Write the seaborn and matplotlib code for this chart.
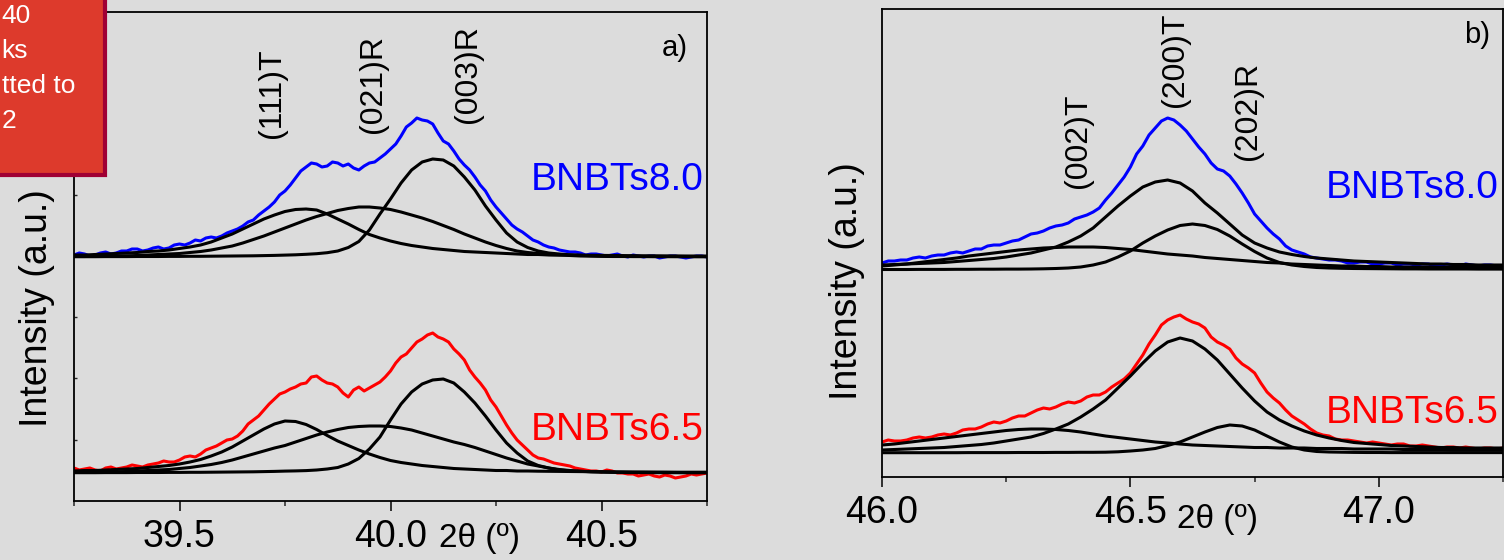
import numpy as np
import matplotlib
matplotlib.use("Agg")
import matplotlib.pyplot as plt
import seaborn as sns
from matplotlib.patches import Rectangle

# ---------------- data (intensity in arbitrary units) ----------------
# sampling grid of the fitted components
theta_a = [39.25, 39.275, 39.3, 39.325, 39.35, 39.375, 39.4, 39.425, 39.45, 39.475,
           39.5, 39.525, 39.55, 39.575, 39.6, 39.625, 39.65, 39.675, 39.7, 39.725,
           39.75, 39.775, 39.8, 39.825, 39.85, 39.875, 39.9, 39.925, 39.95, 39.975,
           40.0, 40.025, 40.05, 40.075, 40.1, 40.125, 40.15, 40.175, 40.2, 40.225,
           40.25, 40.275, 40.3, 40.325, 40.35, 40.375, 40.4, 40.425, 40.45, 40.475,
           40.5, 40.525, 40.55, 40.575, 40.6, 40.625, 40.65, 40.675, 40.7, 40.725, 40.75]
theta_b = [46.0, 46.025, 46.05, 46.075, 46.1, 46.125, 46.15, 46.175, 46.2, 46.225,
           46.25, 46.275, 46.3, 46.325, 46.35, 46.375, 46.4, 46.425, 46.45, 46.475,
           46.5, 46.525, 46.55, 46.575, 46.6, 46.625, 46.65, 46.675, 46.7, 46.725,
           46.75, 46.775, 46.8, 46.825, 46.85, 46.875, 46.9, 46.925, 46.95, 46.975,
           47.0, 47.025, 47.05, 47.075, 47.1, 47.125, 47.15, 47.175, 47.2, 47.225, 47.25]

# measured patterns, read every 0.0125 deg
a_bnbts80 = [2, 4, 3, 1, 2, 4, 5, 3, 4, 6, 6, 8, 8, 6, 7, 9, 10, 8, 9, 12,
             13, 12, 14, 17, 16, 19, 20, 19, 21, 24, 26, 28, 31, 35, 37, 42, 46, 50, 55, 62,
             66, 72, 79, 86, 90, 94, 93, 90, 91, 95, 94, 91, 93, 89, 87, 91, 94, 95, 99, 103,
             108, 113, 121, 130, 134, 139, 137, 136, 133, 124, 116, 113, 106, 98, 92, 87, 80, 72, 66, 57,
             50, 44, 38, 32, 28, 25, 21, 17, 15, 12, 10, 9, 7, 6, 5, 5, 4, 2, 3, 3,
             2, 1, 2, 3, 1, 0, 2, 1, 0, 1, 1, -1, 0, 1, 1, 0, -1, 0, 1, 1, 0]
a_bnbts65 = [5, 3, 4, 5, 3, 2, 5, 6, 4, 5, 6, 8, 7, 6, 8, 9, 10, 12, 11, 11,
             13, 16, 17, 16, 19, 23, 25, 27, 30, 33, 34, 37, 42, 49, 53, 57, 63, 69, 74, 79,
             81, 84, 86, 89, 90, 96, 97, 93, 90, 89, 86, 80, 76, 83, 86, 82, 85, 88, 91, 96,
             102, 110, 116, 119, 125, 131, 134, 138, 140, 136, 134, 131, 124, 119, 113, 103, 96, 90, 83, 73,
             66, 57, 48, 40, 33, 28, 23, 18, 15, 14, 12, 10, 9, 8, 7, 5, 4, 3, 2, 2,
             1, 3, 2, 0, 0, -1, -1, -3, -2, -1, -3, -4, -2, -3, -5, -4, -3, -1, -2, -1, 0]
b_bnbts80 = [7, 9, 9, 10, 10, 12, 13, 12, 14, 15, 15, 17, 18, 17, 19, 21, 21, 24, 25, 25,
             27, 29, 30, 33, 36, 37, 39, 42, 44, 45, 47, 51, 53, 55, 58, 62, 70, 77, 85, 93,
             103, 116, 124, 135, 142, 149, 152, 150, 145, 139, 131, 123, 116, 107, 101, 99, 94, 86, 77, 67,
             56, 49, 42, 36, 31, 24, 20, 18, 16, 13, 12, 11, 10, 10, 9, 7, 7, 8, 8, 6,
             6, 7, 7, 5, 6, 6, 5, 6, 6, 4, 5, 6, 5, 4, 6, 5, 4, 5, 5, 4, 4]
b_bnbts65 = [11, 13, 12, 12, 13, 15, 16, 15, 16, 18, 19, 18, 20, 23, 24, 24, 26, 29, 31, 30,
             32, 35, 37, 37, 40, 43, 45, 44, 46, 49, 51, 50, 52, 56, 58, 58, 61, 66, 70, 74,
             80, 89, 98, 109, 118, 128, 133, 136, 138, 134, 131, 129, 125, 116, 111, 108, 104, 95, 89, 85,
             80, 70, 61, 55, 50, 43, 37, 33, 29, 24, 20, 18, 17, 14, 13, 13, 12, 11, 10, 11,
             10, 9, 8, 9, 9, 7, 7, 8, 7, 6, 5, 6, 6, 5, 6, 5, 4, 5, 5, 4, 5]

# fitted peak components
a80_111T = [2, 2, 2.5, 3, 3.5, 4, 4.5, 5.5, 6, 7, 8.5, 10, 12, 15, 19, 23, 28, 33, 38, 42,
            45.5, 47.5, 48, 47, 43, 38, 33, 27.5, 22.5, 19, 16, 13.5, 11.5, 10, 8.5, 7.5, 6.5, 5.5, 5, 4.5,
            4, 3.5, 3, 2.5, 2.5, 2, 2, 2, 1.8, 1.7, 1.6, 1.5, 1.4, 1.3, 1.2, 1.2, 1.1, 1.1, 1, 1, 1]
a80_021R = [0.5, 0.5, 0.7, 0.8, 1, 1.2, 1.5, 2, 2.5, 3, 3.5, 4.5, 5.5, 7, 9, 11, 14, 17.5, 21, 25,
            29, 33, 37, 40.5, 43.5, 46.5, 48.5, 50, 50, 49, 47.5, 45, 42, 39, 35.5, 31.5, 27.5, 23, 19, 15,
            11.5, 8.5, 6, 4.5, 3.5, 2.5, 2, 1.5, 1, 0.8, 0.6, 0.5, 0.5, 0.4, 0.4, 0.3, 0.3, 0.3, 0.3, 0.3, 0.3]
a80_003R = [0.3, 0.3, 0.3, 0.4, 0.4, 0.4, 0.5, 0.5, 0.5, 0.6, 0.6, 0.7, 0.7, 0.8, 0.9, 1, 1.1, 1.2, 1.4, 1.6,
            1.9, 2.2, 2.7, 3.3, 4.3, 6, 9.5, 15.5, 27, 43, 58, 74, 87, 95, 98, 97, 91, 80, 67, 51,
            37, 24, 15, 9.5, 6, 4, 3, 2.2, 1.7, 1.4, 1.2, 1, 0.9, 0.8, 0.7, 0.6, 0.6, 0.5, 0.5, 0.4, 0.4]
a65_111T = [2, 2.5, 2.5, 3, 3.5, 4, 4.5, 5.5, 6.5, 7.5, 9, 11, 13.5, 17, 21, 26, 32, 38, 44, 49,
            52, 51.5, 48.5, 43.5, 37.5, 32, 27.5, 23, 19, 15.5, 12.5, 10.5, 9, 7.5, 6.5, 5.5, 4.5, 4, 3.5, 3,
            2.5, 2.5, 2, 2, 1.8, 1.7, 1.6, 1.5, 1.4, 1.3, 1.2, 1.1, 1.1, 1, 1, 0.9, 0.9, 0.8, 0.8, 0.8, 0.8]
a65_021R = [0.5, 0.6, 0.8, 1, 1.2, 1.5, 2, 2.5, 3, 3.5, 4.5, 5.5, 7, 8.5, 10.5, 13, 16, 19, 22, 25,
            27.5, 31, 34.5, 38, 41, 43.5, 45.5, 46.5, 47, 47, 46.5, 45, 43, 40, 37, 34, 31, 28.5, 25.5, 22,
            18.5, 15, 12, 9, 7, 5, 3.5, 2.5, 1.8, 1.3, 1, 0.7, 0.5, 0.4, 0.4, 0.3, 0.3, 0.3, 0.3, 0.3, 0.3]
a65_003R = [0.3, 0.3, 0.3, 0.4, 0.4, 0.4, 0.5, 0.5, 0.5, 0.6, 0.6, 0.7, 0.7, 0.8, 0.9, 1, 1.1, 1.2, 1.4, 1.6,
            1.9, 2.1, 2.4, 3, 4, 5.5, 9, 14.5, 24, 36, 53, 69, 81, 89, 93, 94, 90, 81, 70, 57,
            43, 30, 20, 12, 7.5, 5, 3, 2.2, 1.6, 1.3, 1.1, 0.9, 0.8, 0.7, 0.6, 0.6, 0.5, 0.5, 0.4, 0.4, 0.4]

b80_002T = [4, 5, 6, 7.5, 9, 10.5, 12, 14, 15.5, 17, 18.5, 20, 21, 22, 22.5, 23, 23, 23, 22.5, 21.5,
            20.5, 19, 17.5, 16, 15, 14, 12.5, 11.5, 10.5, 9.5, 8.5, 7.5, 7, 6, 5.5, 5, 4.5, 4, 4, 3.5,
            3.5, 3, 3, 3, 3, 2.5, 2.5, 2.5, 2.5, 2.5, 2.5]
b80_200T = [5, 5.5, 6, 6.5, 7, 7.5, 8.5, 9.5, 10.5, 11.5, 13, 15, 17, 20, 23, 28, 34, 42, 53, 64,
            74, 83, 88, 90, 87, 79, 67, 57, 46, 35, 27, 22, 18, 15.5, 13.5, 12, 11, 10, 9, 8.5,
            8, 7.5, 7, 6.5, 6, 6, 5.5, 5.5, 5, 5, 5]
b80_202R = [0.5, 0.5, 0.5, 0.6, 0.6, 0.6, 0.7, 0.7, 0.8, 0.8, 0.9, 0.9, 1, 1.2, 1.5, 2, 3, 5, 8, 13,
            19, 27, 34, 40, 44.5, 46, 44.5, 40.5, 34, 26, 18.5, 12, 7.5, 5, 3.5, 2.5, 2, 1.7, 1.5, 1.4,
            1.3, 1.2, 1.1, 1.1, 1, 1, 1, 1, 0.9, 0.9, 0.9]
b65_002T = [8, 9, 10.5, 12, 13.5, 15, 16.5, 18, 19.5, 21, 22.5, 23.5, 24, 24, 23.5, 22.5, 21, 19, 17, 15.5,
            14, 12.5, 11, 10, 9, 8, 7.5, 7, 6.5, 6, 5.5, 5.5, 5, 5, 5, 4.5, 4.5, 4.5, 4, 4,
            4, 4, 3.5, 3.5, 3.5, 3.5, 3, 3, 3, 3, 3]
b65_200T = [3, 3.5, 4, 4.5, 5, 5.5, 6.5, 7.5, 8.5, 10, 12, 14, 16, 19.5, 24, 29, 36, 44, 53, 65,
            77, 90, 102, 111, 115, 112, 104, 93, 79, 65, 52, 41, 33, 27, 22, 18, 15, 12.5, 10.5, 9.5,
            8.5, 7.5, 7, 6.5, 6, 5.5, 5.5, 5, 5, 5, 5]
b65_202R = [0.3, 0.3, 0.3, 0.3, 0.3, 0.3, 0.3, 0.4, 0.4, 0.4, 0.4, 0.5, 0.5, 0.5, 0.6, 0.6, 0.7, 0.7, 0.8, 1.2,
            2, 3, 4.5, 7.5, 11, 16, 21, 25.5, 28, 27, 23, 17, 11, 6, 3, 1.5, 1, 0.8, 0.6, 0.5,
            0.5, 0.4, 0.4, 0.4, 0.4, 0.4, 0.4, 0.4, 0.4, 0.4, 0.4]

xticks_a = [39.5, 40.0, 40.5]
xticks_b = [46.0, 46.5, 47.0]
peaks_a = ["(111)T", "(021)R", "(003)R"]
peaks_b = ["(002)T", "(200)T", "(202)R"]
samples = ["BNBTs8.0", "BNBTs6.5"]

# ---------------- style ----------------
BG = "#dcdcdc"
sns.set_theme(style="white")
plt.rcParams["font.family"] = ["Liberation Sans", "DejaVu Sans"]
plt.rcParams["axes.facecolor"] = BG
plt.rcParams["figure.facecolor"] = BG

W, H = 1504, 560
fig = plt.figure(figsize=(W / 100, H / 100), dpi=100)
axA = fig.add_axes([74 / W, 59 / H, 633 / W, 489 / H])
axB = fig.add_axes([882 / W, 83 / H, 621 / W, 468 / H])

LW = 2.2


def draw(ax, xfit, meas, comps, base, color):
    xm = np.linspace(xfit[0], xfit[-1], len(meas))
    sns.lineplot(x=xm, y=np.asarray(meas, float) + base, ax=ax, color=color,
                 lw=LW, estimator=None, sort=False)
    for c in comps:
        sns.lineplot(x=xfit, y=np.asarray(c, float) + base, ax=ax, color="black",
                     lw=LW, estimator=None, sort=False)


draw(axA, theta_a, a_bnbts80, [a80_111T, a80_021R, a80_003R], 244, "#0000ff")
draw(axA, theta_a, a_bnbts65, [a65_111T, a65_021R, a65_003R], 28, "#ff0000")
draw(axB, theta_b, b_bnbts80, [b80_002T, b80_200T, b80_202R], 207, "#0000ff")
draw(axB, theta_b, b_bnbts65, [b65_002T, b65_200T, b65_202R], 24, "#ff0000")

for ax in (axA, axB):
    ax.set_facecolor(BG)
    for s in ax.spines.values():
        s.set_visible(True)
        s.set_color("black")
        s.set_linewidth(1.3)

# panel a axes
axA.set_xlim(39.25, 40.75)
axA.set_ylim(0, 489)
axA.set_xticks(xticks_a)
axA.set_xticklabels([f"{v:.1f}" for v in xticks_a])
axA.set_xticks([39.25, 39.75, 40.25, 40.75], minor=True)
axA.tick_params(axis="x", which="major", bottom=True, direction="out", length=7.2,
                width=1.1, labelsize=27, pad=5.5, colors="black")
axA.tick_params(axis="x", which="minor", bottom=True, direction="out", length=3.6, width=1.1)
axA.set_yticks([61.3, 122.6, 183.9, 245.2, 306.5, 367.8, 429.1])
axA.tick_params(axis="y", which="major", left=True, direction="in", length=2.5,
                width=1.0, labelleft=False)

# panel b axes
axB.set_xlim(46.0, 47.25)
axB.set_ylim(0, 468)
axB.set_xticks(xticks_b)
axB.set_xticklabels([f"{v:.1f}" for v in xticks_b])
axB.set_xticks([46.25, 46.75, 47.25], minor=True)
axB.tick_params(axis="x", which="major", bottom=True, direction="out", length=7.0,
                width=1.1, labelsize=27, pad=6, colors="black")
axB.tick_params(axis="x", which="minor", bottom=True, direction="out", length=3.4, width=1.1)
axB.set_yticks([])

# axis labels
axA.set_xlabel("2θ (º)", fontsize=24, color="black")
axA.xaxis.set_label_coords(0.640, -0.094)
axA.xaxis.label.set_va("baseline")
axB.set_xlabel("2θ (º)", fontsize=24, color="black")
axB.xaxis.set_label_coords(0.541, -0.109)
axB.xaxis.label.set_va("baseline")

axA.set_ylabel("Intensity (a.u.)", fontsize=27, color="black")
axA.yaxis.set_label_coords(-0.058, 0.3947)
axA.yaxis.label.set_va("center")
axB.set_ylabel("Intensity (a.u.)", fontsize=27, color="black")
axB.yaxis.set_label_coords(-0.0564, 0.4188)
axB.yaxis.label.set_va("center")

# peak labels
for (px, py), s in zip([(39.719, 363), (39.958, 368), (40.184, 378)], peaks_a):
    axA.text(px, py, s, rotation=90, ha="center", va="bottom", fontsize=23, color="black")
for (px, py), s in zip([(46.395, 289), (46.590, 370), (46.736, 317)], peaks_b):
    axB.text(px, py, s, rotation=90, ha="center", va="bottom", fontsize=23, color="black")

axA.text(40.674, 445, "a)", ha="center", va="baseline", fontsize=21, color="black")
axB.text(47.198, 434, "b)", ha="center", va="baseline", fontsize=21, color="black")

axA.text(40.743, 311, samples[0], ha="right", va="baseline", fontsize=28, color="#0000ff")
axA.text(40.743, 61, samples[1], ha="right", va="baseline", fontsize=28, color="#ff0000")
axB.text(47.242, 279, samples[0], ha="right", va="baseline", fontsize=28, color="#0000ff")
axB.text(47.242, 54, samples[1], ha="right", va="baseline", fontsize=28, color="#ff0000")

# red note box (partially outside the canvas)
fig.add_artist(Rectangle((-10 / W, 385 / H), 114.5 / W, 200 / H, transform=fig.transFigure,
                         facecolor="#dd3a2c", edgecolor="#a00034", lw=3, zorder=10,
                         clip_on=False))
for txt, xr, yb in [("40", 31, 23), ("ks", 28, 58), ("tted to", 75, 93), ("2", 16, 128)]:
    fig.text(xr / W, (H - yb) / H, txt, ha="right", va="baseline", fontsize=19,
             color="white", zorder=11)

fig.savefig("out.png", dpi=100, facecolor=BG)
